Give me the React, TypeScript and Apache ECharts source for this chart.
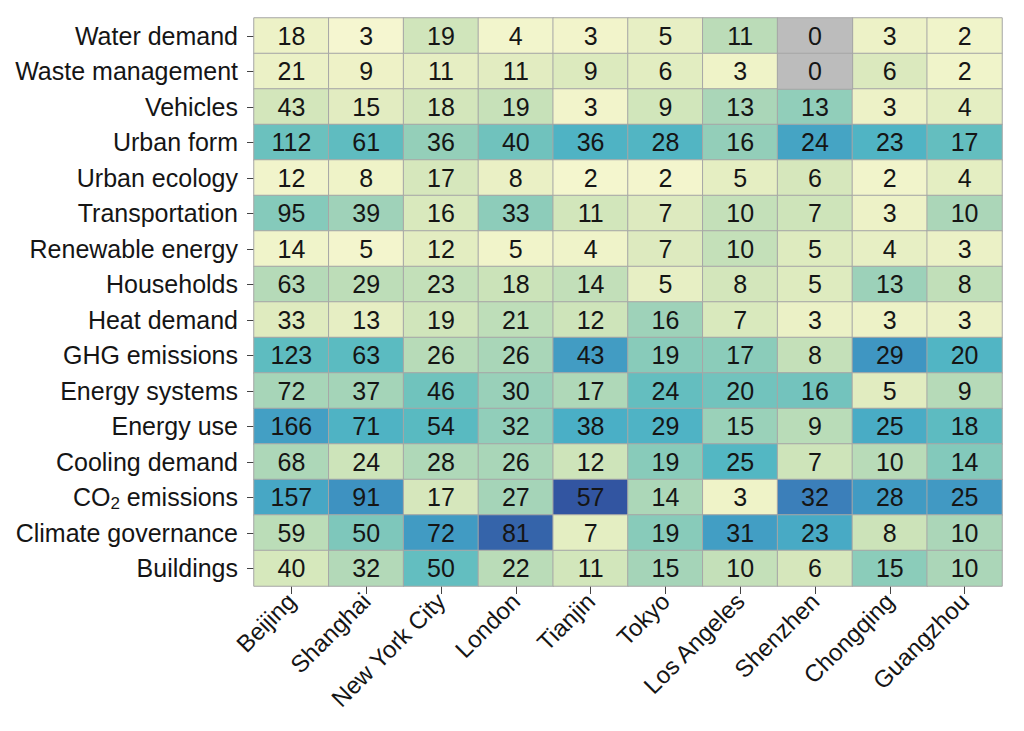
import React, { useEffect, useRef } from "react";
import * as echarts from "echarts";

const cities = ["Beijing", "Shanghai", "New York City", "London", "Tianjin", "Tokyo", "Los Angeles", "Shenzhen", "Chongqing", "Guangzhou"];
const topics = ["Water demand", "Waste management", "Vehicles", "Urban form", "Urban ecology", "Transportation", "Renewable energy", "Households", "Heat demand", "GHG emissions", "Energy systems", "Energy use", "Cooling demand", "CO2 emissions", "Climate governance", "Buildings"];

// values per city, in topic order (top to bottom)
const beijing = [18, 21, 43, 112, 12, 95, 14, 63, 33, 123, 72, 166, 68, 157, 59, 40];
const shanghai = [3, 9, 15, 61, 8, 39, 5, 29, 13, 63, 37, 71, 24, 91, 50, 32];
const newYorkCity = [19, 11, 18, 36, 17, 16, 12, 23, 19, 26, 46, 54, 28, 17, 72, 50];
const london = [4, 11, 19, 40, 8, 33, 5, 18, 21, 26, 30, 32, 26, 27, 81, 22];
const tianjin = [3, 9, 3, 36, 2, 11, 4, 14, 12, 43, 17, 38, 12, 57, 7, 11];
const tokyo = [5, 6, 9, 28, 2, 7, 7, 5, 16, 19, 24, 29, 19, 14, 19, 15];
const losAngeles = [11, 3, 13, 16, 5, 10, 10, 8, 7, 17, 20, 15, 25, 3, 31, 10];
const shenzhen = [0, 0, 13, 24, 6, 7, 5, 5, 3, 8, 16, 9, 7, 32, 23, 6];
const chongqing = [3, 6, 3, 23, 2, 3, 4, 13, 3, 29, 5, 25, 10, 28, 8, 15];
const guangzhou = [2, 2, 4, 17, 4, 10, 3, 8, 3, 20, 9, 18, 14, 25, 10, 10];

const columns = [beijing, shanghai, newYorkCity, london, tianjin, tokyo, losAngeles, shenzhen, chongqing, guangzhou];

// colour ramp for each cell's share of its city's column total (0 … 0.21)
const palette = [
  "#f8f8d4", "#eff3c8", "#dfebbf", "#cbe3b9", "#b0d8b8", "#98d0b9", "#80c8bb", "#66bfbf",
  "#55b8c2", "#4bb0c6", "#43a0c4", "#3e92c1", "#3d8abf", "#3b80ba", "#2c3a91",
];

export default function App() {
  const ref = useRef<HTMLDivElement>(null);
  useEffect(() => {
    if (!ref.current) return;
    const chart = echarts.init(ref.current, null, { renderer: "svg" });
    const cells: any[] = [];
    const missing: any[] = [];
    columns.forEach((col, ci) => {
      const total = col.reduce((a, b) => a + b, 0);
      col.forEach((v, ti) => {
        if (v === 0) missing.push([ci, ti, v]);
        else cells.push([ci, ti, v, v / total]);
      });
    });
    const font = "'Liberation Sans', Arial, Helvetica, sans-serif";
    const cellLabel = {
      show: true,
      color: "#151515",
      fontSize: 25,
      fontFamily: font,
      formatter: (p: any) => String(p.value[2]),
    };
    const cellStyle = { borderColor: "#a6a6a6", borderWidth: 1 };
    chart.setOption({
      animation: false,
      backgroundColor: "#ffffff",
      grid: { left: 254, right: 22, top: 18, bottom: 145 },
      xAxis: {
        type: "category",
        data: cities,
        axisLine: { show: false },
        axisTick: { show: true, alignWithLabel: true, length: 8, lineStyle: { color: "#444", width: 1 } },
        axisLabel: { rotate: 45, margin: 11, fontSize: 24, color: "#151515", fontFamily: font, interval: 0 },
        splitLine: { show: false },
      },
      yAxis: {
        type: "category",
        data: topics,
        inverse: true,
        axisLine: { show: false },
        axisTick: { show: true, alignWithLabel: true, length: 7, lineStyle: { color: "#444", width: 1 } },
        axisLabel: {
          margin: 16,
          fontSize: 25,
          color: "#151515",
          fontFamily: font,
          interval: 0,
          formatter: (v: string) => (v === "CO2 emissions" ? "{a|CO}{b|2}{a| emissions}" : v),
          rich: {
            a: { fontSize: 25, color: "#151515", fontFamily: font },
            b: { fontSize: 17, color: "#151515", fontFamily: font, padding: [12, 0, 0, 0] },
          },
        },
        splitLine: { show: false },
      },
      visualMap: [
        {
          show: false,
          type: "continuous",
          seriesIndex: 0,
          dimension: 3,
          min: 0,
          max: 0.21,
          inRange: { color: palette },
        },
        {
          show: false,
          type: "continuous",
          seriesIndex: 1,
          dimension: 2,
          min: 0,
          max: 1,
          inRange: { color: ["#bcbcbc", "#bcbcbc"] },
        },
      ],
      series: [
        { type: "heatmap", data: cells, label: cellLabel, itemStyle: cellStyle, emphasis: { disabled: true } },
        { type: "heatmap", data: missing, label: cellLabel, itemStyle: cellStyle, emphasis: { disabled: true } },
      ],
    });
    return () => chart.dispose();
  }, []);
  return <div ref={ref} style={{ position: "fixed", left: 0, top: 0, width: 1024, height: 731 }} />;
}
